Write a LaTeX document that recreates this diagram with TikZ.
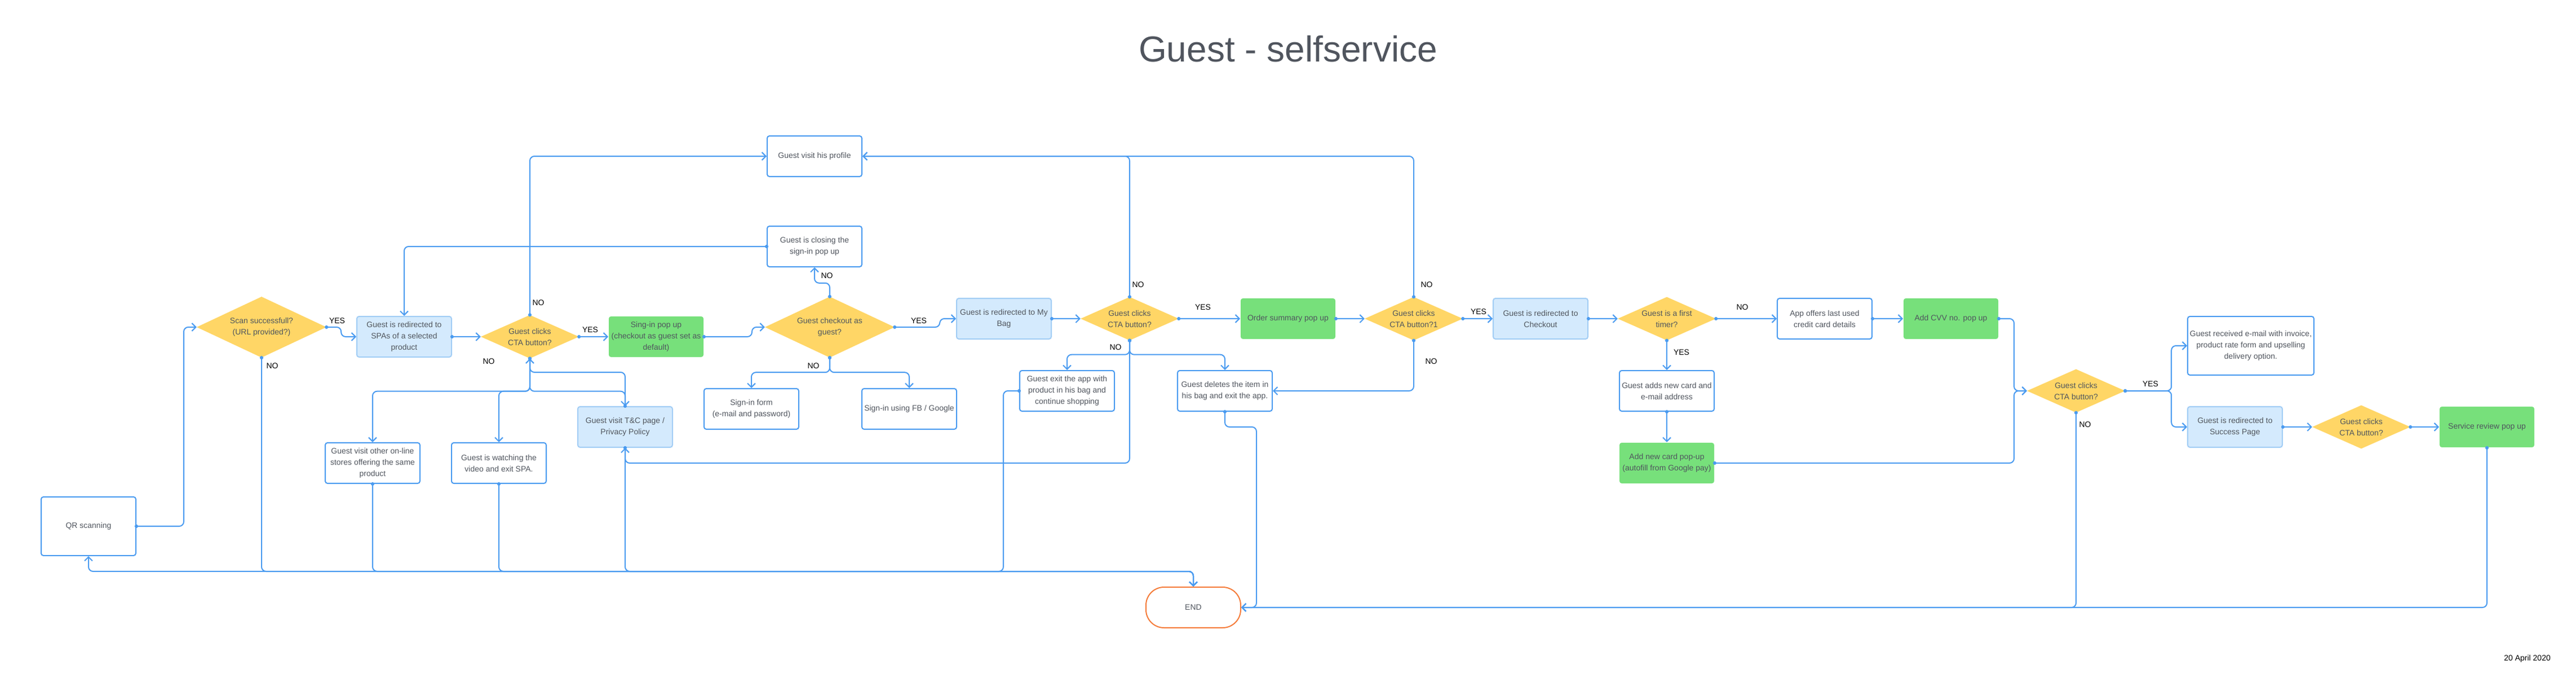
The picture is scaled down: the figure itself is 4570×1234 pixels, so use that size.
\documentclass[tikz,border=0pt]{standalone}
\usepackage{fontspec}
\setmainfont{Liberation Sans}
\usetikzlibrary{arrows.meta,shapes.geometric,calc}
\definecolor{linec}{HTML}{4A9BF0}
\definecolor{lbfill}{HTML}{D4EAFD}
\definecolor{lbdraw}{HTML}{A2CDF5}
\definecolor{grn}{HTML}{77E07B}
\definecolor{ylw}{HTML}{FFD666}
\definecolor{orng}{HTML}{F57C3A}
\definecolor{txt}{HTML}{50555E}
\begin{document}
\begin{tikzpicture}[x=1pt,y=-1pt,
  base/.style={rectangle, rounded corners=4pt, minimum width=168pt, minimum height=72pt, inner sep=2pt, align=center, font=\fontsize{14}{20}\selectfont, text=txt, line width=2pt},
  wbox/.style={base, draw=linec, fill=white},
  lbox/.style={base, draw=lbdraw, fill=lbfill},
  gbox/.style={base, fill=grn},
  dec/.style={diamond, aspect=2.26, fill=ylw, minimum width=174pt, minimum height=77pt, inner sep=0pt, align=center, font=\fontsize{14}{20}\selectfont, text=txt},
  bigdec/.style={dec, aspect=2.13, minimum width=230pt, minimum height=108pt},
  endbox/.style={base, draw=orng, fill=white, rounded corners=32pt},
  conn/.style={draw=linec, line width=2pt, rounded corners=8pt, shorten <=-3pt, {Circle[length=6pt,width=6pt]}-{Straight Barb[length=7pt,width=14pt]}},
  lab/.style={font=\fontsize{14}{16}\selectfont, text=black, inner sep=0pt},
]
\fill[white] (0,0) rectangle (4570,1234);
\useasboundingbox (0,0) rectangle (4570,1234);
\coordinate (bot) at (0,1013);
\coordinate (j7) at (3573,0);

% title and date
\node[font=\fontsize{64}{70}\selectfont, text=txt, anchor=base] (title) at (2285,109) {Guest - selfservice};
\node[lab, anchor=base east] (date) at (4525,1171) {20 April 2020};

% nodes
\node[wbox, minimum height=104pt] (qr) at (157,933) {QR scanning};
\node[bigdec] (d1) at (464,580) {Scan successfull?\\(URL provided?)};
\node[lbox] (spa) at (717,597) {Guest is redirected to\\SPAs of a selected\\product};
\node[dec] (d2) at (940,597) {Guest clicks\\CTA button?};
\node[gbox] (signin) at (1164,597) {Sing-in pop up\\(checkout as guest set as\\default)};
\node[wbox] (other) at (661,821) {Guest visit other on-line\\stores offering the same\\product};
\node[wbox] (video) at (885,821) {Guest is watching the\\video and exit SPA.};
\node[lbox] (tc) at (1109,757) {Guest visit T\&C page /\\Privacy Policy};
\node[wbox] (profile) at (1445,277) {Guest visit his profile};
\node[wbox] (closing) at (1445,437) {Guest is closing the\\sign-in pop up};
\node[bigdec] (d3g) at (1472,580) {Guest checkout as\\guest?};
\node[wbox] (form) at (1333,725) {Sign-in form\\(e-mail and password)};
\node[wbox] (fb) at (1613,725) {Sign-in using FB / Google};
\node[lbox] (bag) at (1781,565) {Guest is redirected to My\\Bag};
\node[dec] (d4) at (2004,565) {Guest clicks\\CTA button?};
\node[wbox] (exit) at (1893,693) {Guest exit the app with\\product in his bag and\\continue shopping};
\node[wbox] (delete) at (2173,693) {Guest deletes the item in\\his bag and exit the app.};
\node[gbox] (order) at (2285,565) {Order summary pop up};
\node[dec] (d5) at (2508,565) {Guest clicks\\CTA button?1};
\node[lbox] (checkout) at (2733,565) {Guest is redirected to\\Checkout};
\node[dec] (dft) at (2957,565) {Guest is a first\\timer?};
\node[wbox] (adds) at (2957,693) {Guest adds new card and\\e-mail address};
\node[gbox] (newcard) at (2957,821) {Add new card pop-up\\(autofill from Google pay)};
\node[wbox] (offers) at (3237,565) {App offers last used\\credit card details};
\node[gbox] (cvv) at (3461,565) {Add CVV no. pop up};
\node[dec] (d7) at (3683,693) {Guest clicks\\CTA button?};
\node[wbox, minimum width=224pt, minimum height=104pt] (email) at (3993,613) {Guest received e-mail with invoice,\\product rate form and upselling\\delivery option.};
\node[lbox] (success) at (3965,757) {Guest is redirected to\\Success Page};
\node[dec] (d8) at (4189,757) {Guest clicks\\CTA button?};
\node[gbox] (review) at (4412,757) {Service review pop up};
\node[endbox] (end) at (2117,1077) {END};

% connectors
\draw[conn] (qr.east) -- ++(84,0) |- (d1.west);
\draw[conn] (d1.east) -- ++(26,0) |- (spa.west);
\draw[conn] (d1.south) -- (d1.south |- bot) -| (end.north);
\draw[conn] (spa.east) -- (d2.west);
\draw[conn] (d2.east) -- (signin.west);
\draw[conn] (d2.north) |- (profile.west);
\draw[conn] (closing.west) -| (spa.north);
\draw[conn] (d2.south) -- ++(0,58) -| (other.north);
\draw[conn] (d2.south) -- ++(0,58) -| (video.north);
\draw[conn] (d2.south) -- ++(0,58) -| (tc.north);
\draw[conn] (tc.north) -- ++(0,-60) -| (d2.south);
\draw[conn] (signin.east) -- ++(85,0) |- (d3g.west);
\draw[conn] (d3g.north) -- ++(0,-24) -| (closing.south);
\draw[conn] (d3g.east) -- ++(80,0) |- (bag.west);
\draw[conn] (d3g.south) -- ++(0,26) -| (form.north);
\draw[conn] (d3g.south) -- ++(0,26) -| (fb.north);
\draw[conn] (bag.east) -- (d4.west);
\draw[conn] (d4.north) |- (profile.east);
\draw[conn] (d5.north) |- (profile.east);
\draw[conn] (d4.east) -- (order.west);
\draw[conn] (order.east) -- (d5.west);
\draw[conn] (d4.south) -- ++(0,25) -| (exit.north);
\draw[conn] (d4.south) -- ++(0,25) -| (delete.north);
\draw[conn] (d4.south) -- (d4.south |- 0,821) -| (tc.south);
\draw[conn] (d5.south) |- (delete.east);
\draw[conn] (exit.west) -- ++(-28,0) |- (qr.south |- bot) -- (qr.south);
\draw[conn] (other.south) |- (end.north |- bot) -- (end.north);
\draw[conn] (video.south) |- (end.north |- bot) -- (end.north);
\draw[conn] (tc.south) |- (end.north |- bot) -- (end.north);
\draw[conn] (delete.south) -- ++(0,27) -- ++(56,0) |- (end.east);
\draw[conn] (d5.east) -- (checkout.west);
\draw[conn] (checkout.east) -- (dft.west);
\draw[conn] (dft.east) -- (offers.west);
\draw[conn] (dft.south) -- (adds.north);
\draw[conn] (adds.south) -- (newcard.north);
\draw[conn] (offers.east) -- (cvv.west);
\draw[conn] (cvv.east) -| (j7 |- d7.west) -- (d7.west);
\draw[conn] (newcard.east) -| (j7 |- d7.west) -- (d7.west);
\draw[conn] (d7.east) -- ++(82,0) |- (email.west);
\draw[conn] (d7.east) -- ++(82,0) |- (success.west);
\draw[conn] (d7.south) |- (end.east);
\draw[conn] (success.east) -- (d8.west);
\draw[conn] (d8.east) -- (review.west);
\draw[conn] (review.south) |- (end.east);

% labels
\node[lab] (l1) at (598,569) {YES};
\node[lab] (l2) at (483,649) {NO};
\node[lab] (l3) at (955,537) {NO};
\node[lab] (l4) at (1047,585) {YES};
\node[lab] (l5) at (867,641) {NO};
\node[lab] (l6) at (1467,489) {NO};
\node[lab] (l7) at (1630,569) {YES};
\node[lab] (l8) at (1443,649) {NO};
\node[lab] (l9) at (2019,505) {NO};
\node[lab] (l10) at (2134,545) {YES};
\node[lab] (l11) at (1979,616) {NO};
\node[lab] (l12) at (2531,505) {NO};
\node[lab] (l13) at (2539,641) {NO};
\node[lab] (l14) at (2623,553) {YES};
\node[lab] (l15) at (3091,545) {NO};
\node[lab] (l16) at (2983,625) {YES};
\node[lab] (l17) at (3815,681) {YES};
\node[lab] (l18) at (3699,753) {NO};
\end{tikzpicture}
\end{document}
